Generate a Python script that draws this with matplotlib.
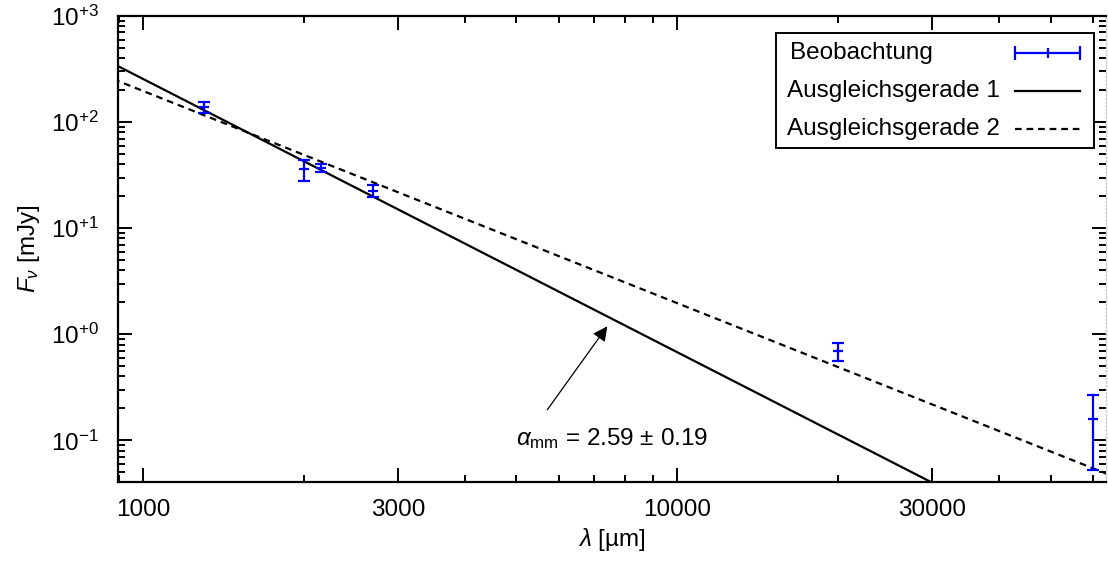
import numpy as np
import matplotlib
matplotlib.use("Agg")
import matplotlib.pyplot as plt
from matplotlib.lines import Line2D
from matplotlib.patches import Rectangle
from matplotlib.ticker import FixedLocator, FixedFormatter, LogLocator, NullFormatter

plt.rcParams["font.family"] = ["Liberation Sans", "DejaVu Sans"]
plt.rcParams["mathtext.fontset"] = "custom"
plt.rcParams["mathtext.rm"] = "Liberation Sans"
plt.rcParams["mathtext.it"] = "Liberation Sans:italic"
plt.rcParams["mathtext.sf"] = "Liberation Sans"

# observations (wavelength in um, flux in mJy)
wavelength = [1300, 2000, 2150, 2700, 20000, 60000]
flux = [138, 36, 37, 22.5, 0.69, 0.16]
flux_err = [15, 8, 3, 3, 0.13, 0.107]

# fit lines, endpoints
fit1_lam = [880, 30000]
fit1_flux = [355, 0.040]
fit2_lam = [880, 65000]
fit2_flux = [254, 0.0465]

xticks = [1000, 3000, 10000, 30000]
xticklabels = ["1000", "3000", "10000", "30000"]
yticks = [0.1, 1, 10, 100, 1000]
yticklabels = [r"$10^{-1}$", r"$10^{+0}$", r"$10^{+1}$", r"$10^{+2}$", r"$10^{+3}$"]
legend_labels = ["Beobachtung", "Ausgleichsgerade 1", "Ausgleichsgerade 2"]

FS = 17.5
BLUE = "#0000ff"

fig = plt.figure(figsize=(11.08, 5.61), dpi=100)
ax = fig.add_axes([118 / 1108, 1 - 482 / 561, (1106 - 118) / 1108, (482 - 16) / 561])

ax.set_xscale("log")
ax.set_yscale("log")
ax.set_xlim(898, 63500)
ax.set_ylim(0.0405, 1000)

ax.errorbar(wavelength, flux, yerr=flux_err, fmt="_", color=BLUE,
            ms=7, mew=1.6, elinewidth=1.6, capsize=4, capthick=1.6, zorder=4)
ax.plot(fit1_lam, fit1_flux, color="black", lw=1.6)
ax.plot(fit2_lam, fit2_flux, color="black", lw=1.6, dashes=(3.0, 2.2))

ax.annotate(r"$\alpha_{\rm mm}$ = 2.59 $\pm$ 0.19",
            xy=(7400, 1.19), xytext=(5000, 0.104),
            ha="left", va="center", fontsize=FS,
            arrowprops=dict(arrowstyle="-|>", color="black", lw=0.9,
                            mutation_scale=22, shrinkA=12, shrinkB=0,
                            relpos=(0.1, 1.0)))

ax.xaxis.set_major_locator(FixedLocator(xticks))
ax.xaxis.set_major_formatter(FixedFormatter(xticklabels))
ax.xaxis.set_minor_locator(LogLocator(base=10, subs=np.arange(2, 10)))
ax.xaxis.set_minor_formatter(NullFormatter())
ax.yaxis.set_major_locator(FixedLocator(yticks))
ax.yaxis.set_major_formatter(FixedFormatter(yticklabels))
ax.yaxis.set_minor_locator(LogLocator(base=10, subs=np.arange(2, 10)))
ax.yaxis.set_minor_formatter(NullFormatter())

ax.tick_params(which="both", direction="in", top=True, right=True, width=1.4)
ax.tick_params(which="major", length=10, labelsize=FS)
ax.tick_params(which="minor", length=5)
ax.tick_params(axis="x", which="major", pad=12)
ax.tick_params(axis="y", which="major", pad=14)

for side in ["left", "bottom", "top"]:
    ax.spines[side].set_linewidth(1.6)
ax.spines["right"].set_color("#c8c8c8")
ax.spines["right"].set_linestyle(":")
ax.spines["right"].set_linewidth(1.0)

ax.set_xlabel(r"$\lambda$ [µm]", fontsize=FS, labelpad=4)
ax.set_ylabel(r"$F_\nu$ [mJy]", fontsize=FS, labelpad=6)

# gnuplot-style key: text left aligned, samples on the right
ax.add_patch(Rectangle((0.666, 0.7167), 0.988 - 0.666, 0.9635 - 0.7167,
                       transform=ax.transAxes, fill=True, facecolor="white",
                       edgecolor="black", lw=1.4, zorder=6))
rows = [0.9206, 0.839, 0.7575]
hx0, hx1 = 0.908, 0.974
for i, (lab, yy) in enumerate(zip(legend_labels, rows)):
    ax.text(0.677 if i else 0.680, yy, lab, transform=ax.transAxes,
            ha="left", va="center", fontsize=FS, zorder=7)
# sample: observation
ax.add_line(Line2D([hx0, hx1], [rows[0], rows[0]], color=BLUE, lw=1.6,
                   transform=ax.transAxes, zorder=7))
ax.add_line(Line2D([hx0, hx1], [rows[0], rows[0]], ls="", marker="|", ms=10,
                   mew=1.6, color=BLUE, transform=ax.transAxes, zorder=7))
ax.add_line(Line2D([(hx0 + hx1) / 2], [rows[0]], ls="", marker="|", ms=7,
                   mew=1.6, color=BLUE, transform=ax.transAxes, zorder=7))
# sample: fits
ax.add_line(Line2D([hx0, hx1], [rows[1], rows[1]], color="black", lw=1.6,
                   transform=ax.transAxes, zorder=7))
ax.add_line(Line2D([hx0, hx1], [rows[2], rows[2]], color="black", lw=1.6,
                   dashes=(3.0, 2.2), transform=ax.transAxes, zorder=7))

fig.savefig("out.png", dpi=100)
